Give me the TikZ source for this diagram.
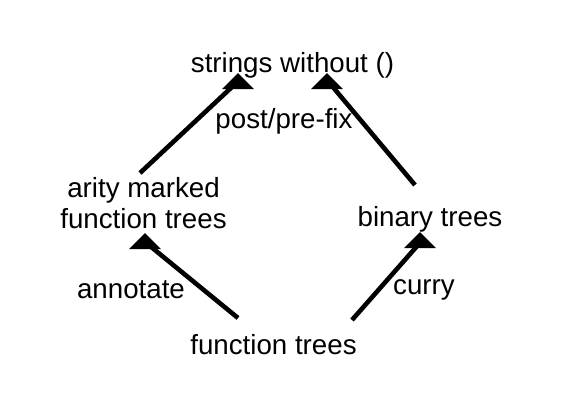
\documentclass[tikz,border=0pt]{standalone}
\usepackage{fontspec}
\setmainfont{Liberation Sans}
\usetikzlibrary{calc}
\definecolor{dgInk}{HTML}{000000}
\tikzset{
  lbl/.style   ={font=\fontsize{27.7pt}{31pt}\selectfont,text=dgInk,
                 inner sep=0pt,anchor=base},
  stack/.style ={lbl,align=center},
  flow/.style  ={dgInk,line width=4.6pt,line cap=butt},
  tip/.style   ={fill=dgInk},
}
\newcommand{\uptip}[1]{\fill[tip] (#1) -- ++(-16,16) -- ++(32,0) -- cycle;}

\begin{document}
\begin{tikzpicture}[x=1pt,y=-1pt]
\useasboundingbox (0,0) rectangle (566,405);
\node[lbl]   (S) at (292.5,72) {strings without ()};
\node[lbl]   (P) at (284,128)  {post/pre-fix};
\node[stack] (A) at (143.5,228) {arity marked\\function trees};
\node[lbl]   (B) at (430,226)  {binary trees};
\node[lbl]   (N) at (131,298)  {annotate};
\node[lbl]   (C) at (424,294)  {curry};
\node[lbl]   (F) at (273.5,354) {function trees};
% arrow tips sit just under the target labels
\coordinate (tSA) at (238,73);
\coordinate (tSB) at (327,73);
\coordinate (tAF) at (145,233);
\coordinate (tBF) at (420,232);
\draw[flow] ([xshift=-3.5pt,yshift=55pt]A.base) -- ($(tSA)+(-5,13)$);
\draw[flow] ([xshift=-15pt,yshift=41pt]B.base)  -- ($(tSB)+(5,13)$);
\draw[flow] ([xshift=-35.5pt,yshift=36pt]F.base) -- ($(tAF)+(5,13)$);
\draw[flow] ([xshift=78.5pt,yshift=34pt]F.base)  -- ($(tBF)+(-2,13)$);
\foreach \t in {tSA,tSB,tAF,tBF}
  \uptip{\t};
\end{tikzpicture}
\end{document}
